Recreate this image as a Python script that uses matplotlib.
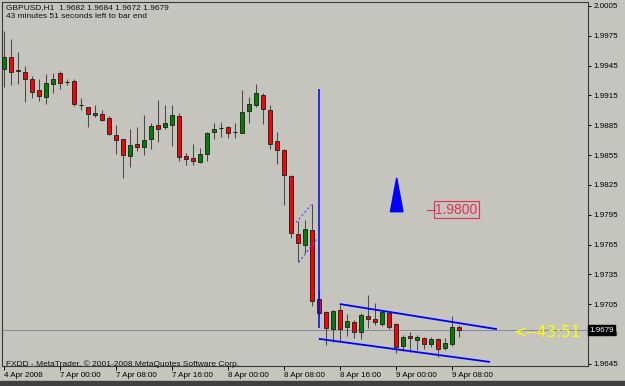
import numpy as np
import matplotlib.pyplot as plt
from matplotlib.patches import Polygon, Rectangle
import matplotlib.transforms as mtransforms

plt.rcParams['font.family'] = ['Liberation Sans', 'DejaVu Sans']

# GBPUSD H1 bars, 4 Apr 16:00 .. 9 Apr 09:00
opens = [1.9942, 1.9954, 1.9941, 1.9939, 1.9932, 1.9920, 1.9913, 1.9927, 1.9938, 1.9929,
         1.9930, 1.9905, 1.9903, 1.9895, 1.9896, 1.9892, 1.9875, 1.9871, 1.9854, 1.9866,
         1.9863, 1.9871, 1.9885, 1.9883, 1.9885, 1.9894, 1.9854, 1.9852, 1.9848, 1.9856,
         1.9878, 1.9882, 1.9883, 1.9878, 1.9877, 1.9899, 1.9905, 1.9915, 1.9900, 1.9869,
         1.9860, 1.9834, 1.9776, 1.9765, 1.9780, 1.9710, 1.9697, 1.9680, 1.9699, 1.9682,
         1.9687, 1.9677, 1.9693, 1.9690, 1.9685, 1.9696, 1.9685, 1.9663, 1.9673, 1.9669,
         1.9671, 1.9665, 1.9670, 1.9661, 1.9665, 1.9682]
highs = [1.9980, 1.9972, 1.9959, 1.9945, 1.9935, 1.9932, 1.9937, 1.9938, 1.9940, 1.9932,
         1.9932, 1.9912, 1.9903, 1.9905, 1.9900, 1.9894, 1.9885, 1.9871, 1.9881, 1.9883,
         1.9895, 1.9887, 1.9910, 1.9905, 1.9905, 1.9897, 1.9857, 1.9866, 1.9862, 1.9878,
         1.9887, 1.9888, 1.9884, 1.9887, 1.9920, 1.9913, 1.9927, 1.9917, 1.9905, 1.9878,
         1.9861, 1.9835, 1.9789, 1.9790, 1.9806, 1.9719, 1.9698, 1.9699, 1.9704, 1.9695,
         1.9689, 1.9696, 1.9714, 1.9706, 1.9699, 1.9697, 1.9686, 1.9674, 1.9677, 1.9674,
         1.9672, 1.9672, 1.9671, 1.9671, 1.9693, 1.9684]
lows = [1.9923, 1.9925, 1.9927, 1.9908, 1.9912, 1.9909, 1.9906, 1.9917, 1.9921, 1.9925,
        1.9904, 1.9900, 1.9883, 1.9893, 1.9889, 1.9875, 1.9856, 1.9832, 1.9843, 1.9859,
        1.9855, 1.9861, 1.9868, 1.9881, 1.9864, 1.9849, 1.9845, 1.9845, 1.9847, 1.9849,
        1.9871, 1.9873, 1.9872, 1.9872, 1.9877, 1.9887, 1.9903, 1.9886, 1.9861, 1.9846,
        1.9805, 1.9772, 1.9747, 1.9756, 1.9703, 1.9693, 1.9664, 1.9667, 1.9668, 1.9673,
        1.9671, 1.9670, 1.9681, 1.9684, 1.9683, 1.9680, 1.9656, 1.9658, 1.9657, 1.9659,
        1.9660, 1.9662, 1.9652, 1.9659, 1.9663, 1.9672]
closes = [1.9954, 1.9939, 1.9940, 1.9932, 1.9918, 1.9914, 1.9928, 1.9932, 1.9928, 1.9929,
          1.9906, 1.9905, 1.9896, 1.9897, 1.9890, 1.9876, 1.9870, 1.9855, 1.9865, 1.9863,
          1.9870, 1.9884, 1.9881, 1.9887, 1.9895, 1.9853, 1.9851, 1.9849, 1.9856, 1.9877,
          1.9881, 1.9882, 1.9877, 1.9878, 1.9898, 1.9906, 1.9917, 1.9901, 1.9866, 1.9860,
          1.9835, 1.9777, 1.9767, 1.9781, 1.9708, 1.9696, 1.9681, 1.9698, 1.9680, 1.9688,
          1.9677, 1.9694, 1.9690, 1.9687, 1.9697, 1.9682, 1.9662, 1.9672, 1.9671, 1.9672,
          1.9665, 1.9670, 1.9660, 1.9666, 1.9682, 1.9679]

xtick_pos = [0, 8, 16, 24, 32, 40, 48, 56, 64]
xtick_labels = ['4 Apr 2008', '7 Apr 00:00', '7 Apr 08:00', '7 Apr 16:00', '8 Apr 00:00',
                '8 Apr 08:00', '8 Apr 16:00', '9 Apr 00:00', '9 Apr 08:00']
ytick_vals = [2.0005, 1.9975, 1.9945, 1.9915, 1.9885, 1.9855, 1.9825, 1.9795,
              1.9765, 1.9735, 1.9705, 1.9675, 1.9645]

last_price = 1.9679
# chart objects (bar index, price)
vline_x, vline_y = 45.0, [1.9681, 1.9921]
chan_up_x, chan_up_y = [48.1, 70.3], [1.9705, 1.9680]
chan_lo_x, chan_lo_y = [45.1, 69.3], [1.9670, 1.9647]
dash_up_x, dash_up_y = [41.7, 43.9], [1.9787, 1.9805]
dash_lo_x, dash_lo_y = [42.1, 44.7], [1.9747, 1.9771]
arrow_x, arrow_y = [55.2, 57.0, 56.1], [1.9798, 1.9798, 1.9832]
label_price = 1.9800
label_x = [60.4, 61.6]
timer_x, timer_y = 72.7, 1.9676

bg = '#c5c4bd'
fig = plt.figure(figsize=(6.25, 3.86), dpi=100)
fig.patch.set_facecolor(bg)
ax = fig.add_axes([2/625, 20/386, 586/625, 364/386])
ax.set_facecolor(bg)

x = np.arange(len(opens))
o = np.array(opens); c = np.array(closes)
h = np.array(highs); l = np.array(lows)

ax.vlines(x, l, h, color='#4a4a4a', lw=0.75, zorder=2)
up = c > o
dn = c < o
eq = c == o
ax.bar(x[up], (c - o)[up], bottom=o[up], width=0.6, color='#008000',
       edgecolor='#2a2a2a', lw=0.7, zorder=3)
ax.bar(x[dn], (o - c)[dn], bottom=c[dn], width=0.6, color='#ff0000',
       edgecolor='#2a2a2a', lw=0.7, zorder=3)
ax.hlines(o[eq], x[eq] - 0.35, x[eq] + 0.35, color='#1a1a1a', lw=0.8, zorder=3)

# current price line
ax.axhline(last_price, color='#8a8aa0', lw=0.7, zorder=1)

# drawn objects
ax.vlines(vline_x, vline_y[0], vline_y[1], color='#0000ff', lw=1.1, zorder=4)
ax.plot(chan_up_x, chan_up_y, color='#0000ff', lw=1.3, zorder=4)
ax.plot(chan_lo_x, chan_lo_y, color='#0000ff', lw=1.3, zorder=4)
ax.plot(dash_up_x, dash_up_y, color='#4a4aff', lw=0.8, ls=(0, (2, 2)), zorder=4)
ax.plot(dash_lo_x, dash_lo_y, color='#4a4aff', lw=0.8, ls=(0, (2, 2)), zorder=4)
ax.add_patch(Polygon(np.column_stack([arrow_x, arrow_y]), closed=True,
                     color='#0000ff', zorder=4))

crimson = '#e0305a'
ax.plot(label_x, [label_price, label_price], color=crimson, lw=0.8)
ax.text(label_x[1], label_price, '%.4f' % label_price, color=crimson, fontsize=10,
        va='center', ha='left',
        bbox=dict(boxstyle='square,pad=0.12', fc='none', ec=crimson, lw=0.8))
ax.text(timer_x, timer_y, '<--43:51', color='#ffff00', fontsize=11,
        family='DejaVu Sans', va='center', ha='left')

ax.set_xlim(-0.286, 83.43)
ax.set_ylim(1.96428, 2.00090)

ax.yaxis.tick_right()
ax.set_yticks(ytick_vals)
ax.set_yticklabels(['%.4f' % v for v in ytick_vals])
ax.tick_params(axis='y', direction='out', length=2.5, width=0.7, pad=1.5,
               labelsize=5.8, colors='black')
ax.set_xticks(xtick_pos)
ax.set_xticklabels(xtick_labels, ha='left')
ax.tick_params(axis='x', direction='out', length=3, width=0.7, pad=1.5,
               labelsize=5.8, colors='black')
for s in ax.spines.values():
    s.set_color('#3a3a3a')
    s.set_linewidth(0.8)

tr = mtransforms.blended_transform_factory(ax.transAxes, ax.transData)
ax.text(1.002, last_price, '%.4f' % last_price, transform=tr, color='white',
        fontsize=5.8, va='center', ha='left', clip_on=False, zorder=10,
        bbox=dict(boxstyle='square,pad=0.15', fc='black', ec='black'))

fig.text(6/625, 1 - 4/386, 'GBPUSD,H1  1.9682 1.9684 1.9672 1.9679',
         fontsize=6, va='top', color='#111111')
fig.text(6/625, 1 - 13/386, '43 minutes 51 seconds left to bar end',
         fontsize=6, va='top', color='#111111')
fig.text(6/625, 1 - 366/386, 'FXDD - MetaTrader, \u00a9 2001-2008 MetaQuotes Software Corp.',
         fontsize=6, va='baseline', color='#111111')

fig.add_artist(Rectangle((0, 0), 1, 5/386, transform=fig.transFigure,
                         color='#404040', zorder=0))

fig.savefig('out.png', dpi=100, facecolor=fig.get_facecolor())
